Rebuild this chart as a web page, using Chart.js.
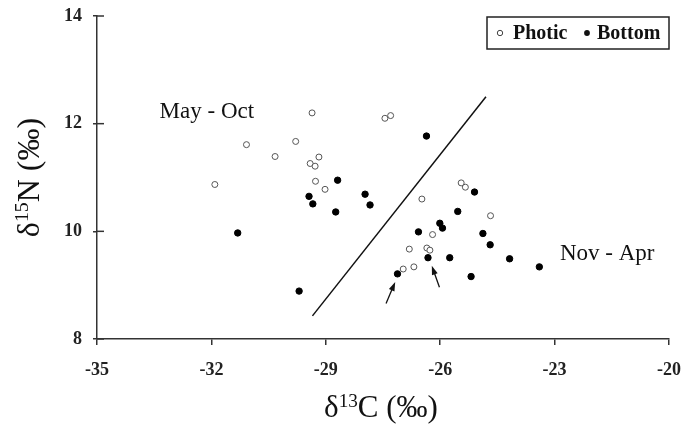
<!DOCTYPE html>
<html>
<head>
<meta charset="utf-8">
<script src="https://cdn.jsdelivr.net/npm/chart.js@4/dist/chart.umd.min.js"></script>
<style>
  body { margin: 0; background: #fff; }
  #wrap { width: 684px; height: 431px; }
</style>
</head>
<body>
<div id="wrap"><canvas id="isotopes"></canvas></div>
<script>
// d13C / d15N values
var photicC = [-29.36, -27.45, -27.3, -31.08, -29.79, -30.33, -29.18, -29.41, -29.28, -31.91, -29.27, -29.02,
               -25.45, -25.34, -26.48, -24.68, -26.2, -26.81, -26.35, -26.27, -26.97, -26.69];
var photicN = [12.2, 12.1, 12.15, 11.61, 11.67, 11.39, 11.38, 11.26, 11.21, 10.87, 10.93, 10.78,
               10.9, 10.82, 10.6, 10.29, 9.94, 9.67, 9.69, 9.65, 9.3, 9.34];
var bottomC = [-28.69, -29.44, -27.97, -29.34, -27.84, -28.74, -31.31, -29.7, -26.36, -25.1, -25.54,
               -26.57, -26.01, -25.94, -24.88, -24.69, -26.32, -25.75, -24.18, -23.4, -25.19, -27.12];
var bottomN = [10.95, 10.65, 10.69, 10.51, 10.49, 10.36, 9.97, 8.89, 11.77, 10.73, 10.37,
               9.99, 10.15, 10.06, 9.96, 9.75, 9.51, 9.51, 9.49, 9.34, 9.16, 9.21];

// line separating the two seasons
var lineC = [-29.35, -24.8];
var lineN = [8.43, 12.5];

// the two arrows: tail -> head
var arrowFromC = [-27.42, -26.02];
var arrowFromN = [8.66, 8.96];
var arrowToC = [-27.18, -26.22];
var arrowToN = [9.06, 9.36];

// season labels
var seasonNames = ['May - Oct', 'Nov - Apr'];
var seasonC = [-32.12, -21.62];
var seasonN = [12.21, 9.58];

var xTicks = [-35, -32, -29, -26, -23, -20];
var yTicks = [8, 10, 12, 14];
var legendNames = ['Photic', 'Bottom'];

function toPoints(xs, ys) {
    return xs.map(function (x, i) { return { x: x, y: ys[i] }; });
}

var serif = 'Liberation Serif, Times New Roman, serif';

// draws text like d15N with a raised smaller number
function drawIsoLabel(ctx, parts, size) {
    var w = 0;
    parts.forEach(function (p) {
        ctx.font = (p.sup ? size * 0.62 : size) + 'px ' + serif;
        p.w = ctx.measureText(p.t).width;
        w += p.w;
    });
    var x = -w / 2;
    parts.forEach(function (p) {
        ctx.font = (p.sup ? size * 0.62 : size) + 'px ' + serif;
        ctx.fillText(p.t, x, p.sup ? -size * 0.33 : 0);
        x += p.w;
    });
}

function drawArrow(ctx, x1, y1, x2, y2) {
    var ang = Math.atan2(y2 - y1, x2 - x1);
    var len = 9, half = 3;
    ctx.beginPath();
    ctx.moveTo(x1, y1);
    ctx.lineTo(x2 - Math.cos(ang) * len * 0.8, y2 - Math.sin(ang) * len * 0.8);
    ctx.stroke();
    ctx.beginPath();
    ctx.moveTo(x2, y2);
    ctx.lineTo(x2 - Math.cos(ang) * len - Math.sin(ang) * half, y2 - Math.sin(ang) * len + Math.cos(ang) * half);
    ctx.lineTo(x2 - Math.cos(ang) * len + Math.sin(ang) * half, y2 - Math.sin(ang) * len - Math.cos(ang) * half);
    ctx.closePath();
    ctx.fill();
}

var extras = {
    id: 'extras',
    afterDraw: function (chart) {
        var ctx = chart.ctx;
        var xs = chart.scales.x, ys = chart.scales.y;
        var ca = chart.chartArea;
        ctx.save();
        ctx.fillStyle = '#111';

        // y ticks also poke into the plot
        ctx.lineWidth = 1.5;
        ctx.strokeStyle = '#333';
        yTicks.forEach(function (v) {
            var py = ys.getPixelForValue(v);
            ctx.beginPath();
            ctx.moveTo(ca.left, py);
            ctx.lineTo(ca.left + 7, py);
            ctx.stroke();
        });

        // arrows
        ctx.strokeStyle = '#111';
        ctx.lineWidth = 1.3;
        for (var i = 0; i < arrowFromC.length; i++) {
            drawArrow(ctx,
                xs.getPixelForValue(arrowFromC[i]), ys.getPixelForValue(arrowFromN[i]),
                xs.getPixelForValue(arrowToC[i]), ys.getPixelForValue(arrowToN[i]));
        }

        // season labels
        ctx.font = '23px ' + serif;
        ctx.textAlign = 'center';
        ctx.textBaseline = 'middle';
        seasonNames.forEach(function (s, i) {
            ctx.fillText(s, xs.getPixelForValue(seasonC[i]), ys.getPixelForValue(seasonN[i]));
        });

        // axis titles
        ctx.textAlign = 'left';
        ctx.textBaseline = 'alphabetic';
        ctx.save();
        ctx.translate((ca.left + ca.right) / 2 - 2, 417);
        drawIsoLabel(ctx, [{ t: '\u03b4' }, { t: '13', sup: true }, { t: 'C (\u2030)' }], 31);
        ctx.restore();
        ctx.save();
        ctx.translate(39, (ca.top + ca.bottom) / 2);
        ctx.rotate(-Math.PI / 2);
        drawIsoLabel(ctx, [{ t: '\u03b4' }, { t: '15', sup: true }, { t: 'N (\u2030)' }], 32);
        ctx.restore();

        // legend box
        var bx = ca.right - 182, by = ca.top + 1, bw = 182, bh = 32;
        ctx.fillStyle = '#fff';
        ctx.fillRect(bx, by, bw, bh);
        ctx.strokeStyle = '#222';
        ctx.lineWidth = 1.5;
        ctx.strokeRect(bx, by, bw, bh);
        var my = by + bh / 2;
        ctx.lineWidth = 1;
        ctx.beginPath();
        ctx.arc(bx + 13, my, 2.7, 0, Math.PI * 2);
        ctx.strokeStyle = '#444';
        ctx.stroke();
        ctx.fillStyle = '#111';
        ctx.beginPath();
        ctx.arc(bx + 100, my, 2.9, 0, Math.PI * 2);
        ctx.fill();
        ctx.font = 'bold 20px ' + serif;
        ctx.textBaseline = 'middle';
        ctx.fillText(legendNames[0], bx + 26, my + 1);
        ctx.fillText(legendNames[1], bx + 110, my + 1);

        ctx.restore();
    }
};

var tickFont = { family: serif, size: 18, weight: 'bold' };

new Chart(document.getElementById('isotopes').getContext('2d'), {
    type: 'scatter',
    data: {
        datasets: [
            {
                label: legendNames[0],
                data: toPoints(photicC, photicN),
                pointRadius: 3,
                pointBorderWidth: 1,
                borderColor: '#555',
                backgroundColor: '#fff',
                order: 1
            },
            {
                label: legendNames[1],
                data: toPoints(bottomC, bottomN),
                pointRadius: 3.2,
                borderColor: '#000',
                backgroundColor: '#000',
                order: 2
            },
            {
                type: 'line',
                data: toPoints(lineC, lineN),
                borderColor: '#111',
                borderWidth: 1.5,
                pointRadius: 0,
                fill: false,
                order: 3
            }
        ]
    },
    options: {
        responsive: true,
        maintainAspectRatio: false,
        animation: false,
        layout: { padding: { top: 16, right: 15, left: 0, bottom: 0 } },
        plugins: {
            legend: { display: false },
            tooltip: { enabled: false }
        },
        scales: {
            x: {
                type: 'linear',
                min: -35,
                max: -20,
                afterBuildTicks: function (s) { s.ticks = xTicks.map(function (v) { return { value: v }; }); },
                afterFit: function (s) {
                    s.height = 92;
                    s.paddingLeft = 0;
                    s.paddingRight = 0;
                },
                border: { display: true, color: '#333', width: 1.5 },
                grid: { drawOnChartArea: false, tickLength: 6, color: '#333', lineWidth: 1.5 },
                ticks: { font: tickFont, color: '#222', padding: 15, maxRotation: 0 }
            },
            y: {
                type: 'linear',
                min: 8,
                max: 14,
                afterBuildTicks: function (s) { s.ticks = yTicks.map(function (v) { return { value: v }; }); },
                afterFit: function (s) {
                    s.width = 97;
                    s.paddingTop = 0;
                    s.paddingBottom = 0;
                },
                border: { display: true, color: '#333', width: 1.5 },
                grid: { drawOnChartArea: false, tickLength: 4, color: '#333', lineWidth: 1.5 },
                ticks: { font: tickFont, color: '#222', padding: 11 }
            }
        }
    },
    plugins: [extras]
});
</script>
</body>
</html>
